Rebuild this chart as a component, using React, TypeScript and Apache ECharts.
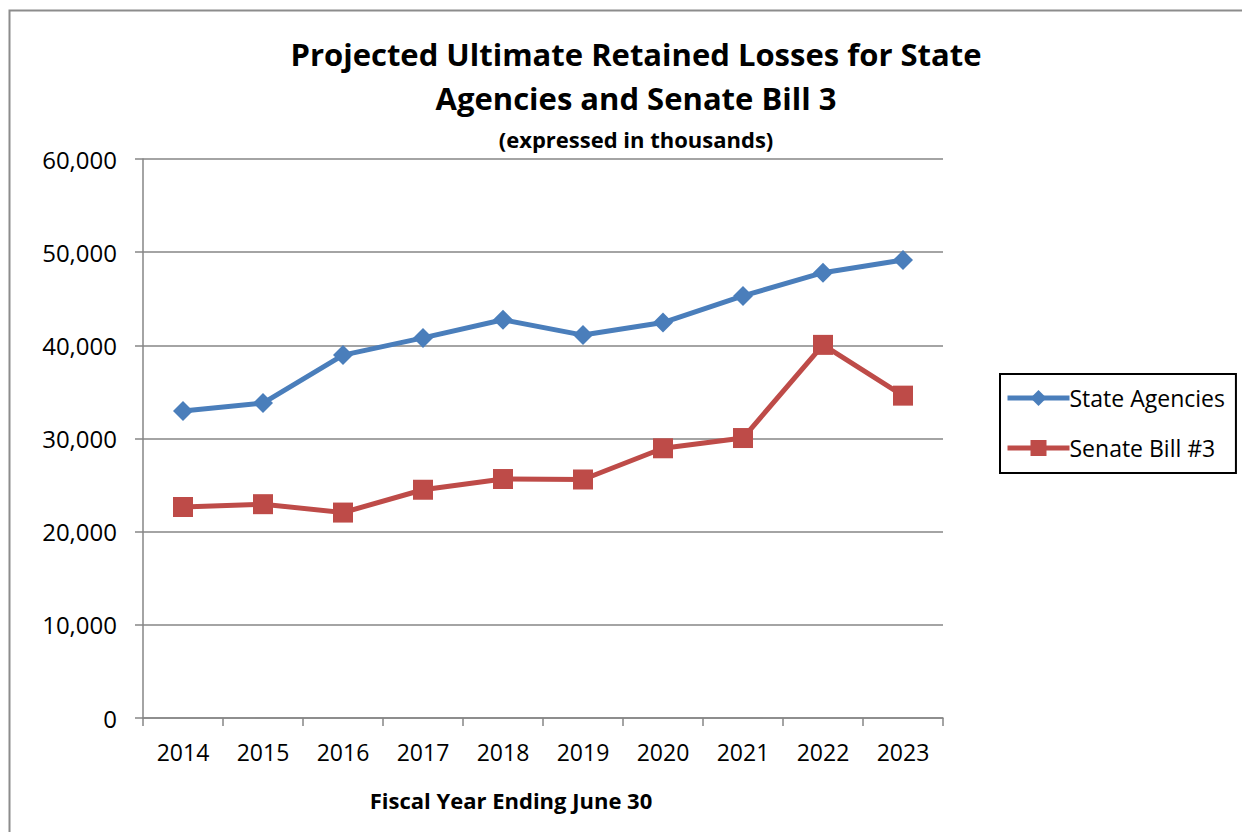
import React, { useEffect, useRef } from "react";
import * as echarts from "echarts";

const years = ["2014", "2015", "2016", "2017", "2018", "2019", "2020", "2021", "2022", "2023"];
const stateAgencies = [32950, 33800, 38950, 40800, 42750, 41100, 42450, 45300, 47800, 49150];
const senateBill3 = [22650, 22950, 22050, 24500, 25650, 25600, 28950, 30050, 40050, 34600];
const yTicks = [0, 10000, 20000, 30000, 40000, 50000, 60000];

const FONT = "'Open Sans', 'Noto Sans', sans-serif";

export default function App() {
  const ref = useRef<HTMLDivElement>(null);
  useEffect(() => {
    document.body.style.margin = "0";
    const chart = echarts.init(ref.current!, undefined, { renderer: "svg" });
    chart.setOption({
      animation: false,
      backgroundColor: "#ffffff",
      textStyle: { fontFamily: FONT },
      title: [
        {
          text: "Projected Ultimate Retained Losses for State\nAgencies and Senate Bill 3",
          left: 631,
          top: 27,
          textAlign: "center",
          textStyle: { fontFamily: FONT, fontSize: 31, fontWeight: "bold", color: "#000", lineHeight: 44 },
        },
        {
          text: "(expressed in thousands)",
          left: 631,
          top: 123,
          textAlign: "center",
          textStyle: { fontFamily: FONT, fontSize: 22, fontWeight: "bold", color: "#000" },
        },
      ],
      graphic: [
        {
          type: "rect",
          shape: { x: 9.5, y: 10.5, width: 1240, height: 830 },
          style: { fill: "none", stroke: "#8c8c8c", lineWidth: 2 },
          silent: true,
        },
        {
          type: "text",
          x: 511,
          y: 800,
          style: {
            text: "Fiscal Year Ending June 30",
            fontFamily: FONT,
            fontSize: 22,
            fontWeight: "bold",
            fill: "#000",
            align: "center",
            verticalAlign: "middle",
          },
        },
      ],
      legend: {
        orient: "vertical",
        left: 1000,
        top: 374,
        padding: [12, 11, 13, 5],
        itemGap: 26,
        itemWidth: 62,
        itemHeight: 20,
        borderColor: "#000",
        borderWidth: 2,
        lineStyle: { width: 5 },
        textStyle: { fontFamily: FONT, fontSize: 23, lineHeight: 24, color: "#000", padding: [0, 0, 0, -5] },
        data: ["State Agencies", "Senate Bill #3"],
      },
      grid: { left: 143, top: 159, width: 800, height: 559 },
      xAxis: {
        type: "category",
        data: years,
        boundaryGap: true,
        axisLine: { lineStyle: { color: "#868686", width: 1.5 } },
        axisTick: { show: true, length: 8, lineStyle: { color: "#868686", width: 1.5 } },
        axisLabel: { margin: 22, fontFamily: FONT, fontSize: 23, color: "#000" },
      },
      yAxis: {
        type: "value",
        min: yTicks[0],
        max: yTicks[yTicks.length - 1],
        interval: yTicks[1] - yTicks[0],
        axisLine: { show: true, lineStyle: { color: "#868686", width: 1.5 } },
        axisTick: { show: true, length: 8, lineStyle: { color: "#868686", width: 1.5 } },
        splitLine: { lineStyle: { color: "#868686", width: 1.5 } },
        axisLabel: {
          margin: 26,
          fontFamily: FONT,
          fontSize: 24,
          color: "#000",
          formatter: (v: number) => v.toLocaleString("en-US"),
        },
      },
      series: [
        {
          name: "State Agencies",
          type: "line",
          data: stateAgencies,
          symbol: "diamond",
          symbolSize: 20,
          color: "#4a7ebb",
          lineStyle: { width: 5, color: "#4a7ebb" },
          itemStyle: { color: "#4a7ebb" },
        },
        {
          name: "Senate Bill #3",
          type: "line",
          data: senateBill3,
          symbol: "rect",
          symbolSize: 20,
          color: "#be4b48",
          lineStyle: { width: 5, color: "#be4b48" },
          itemStyle: { color: "#be4b48" },
        },
      ],
    });
    return () => chart.dispose();
  }, []);
  return <div ref={ref} style={{ width: 1242, height: 832 }} />;
}
